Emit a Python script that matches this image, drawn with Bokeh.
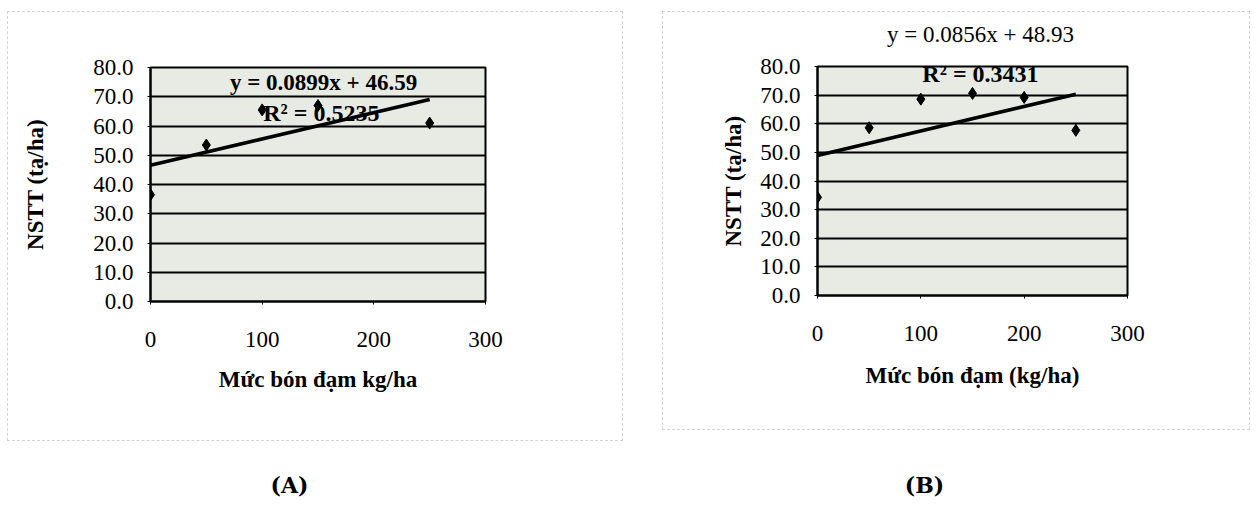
from bokeh.plotting import figure
from bokeh.models import Label, Range1d, FixedTicker, PrintfTickFormatter, Spacer
from bokeh.layouts import row, column
from bokeh.embed import file_html
from bokeh.resources import INLINE

# ---------------- data ----------------
x_ticks = [0, 100, 200, 300]
y_ticks = [0, 10, 20, 30, 40, 50, 60, 70, 80]

a_x = [0, 50, 100, 150, 250]
a_y = [36.5, 53.5, 65.5, 67.0, 61.0]
a_slope = 0.0899
a_intercept = 46.59
a_r2 = 0.5235

b_x = [0, 50, 100, 150, 200, 250]
b_y = [34.3, 58.6, 68.6, 70.6, 69.2, 57.7]
b_slope = 0.0856
b_intercept = 48.93
b_r2 = 0.3431

x_title_a = "Mức bón đạm kg/ha"
x_title_b = "Mức bón đạm (kg/ha)"
y_title = "NSTT (tạ/ha)"
captions = ["(A)", "(B)"]

SERIF = "Liberation Serif"
BG = "#e8ebe3"
PANEL_BORDER = {"border": "1px dashed #d4d4d4"}


def no_align(p):
    try:
        p.frame_align = False
    except Exception:
        pass


def text_strip(w, h):
    f = figure(width=w, height=h, output_backend="svg", toolbar_location=None,
               x_range=Range1d(0, w), y_range=Range1d(0, h),
               min_border=0, x_axis_type=None, y_axis_type=None)
    no_align(f)
    f.outline_line_color = None
    f.xgrid.grid_line_color = None
    f.ygrid.grid_line_color = None
    return f


def make_panel(w, h, left, right, top, bottom, xs, ys, slope, intercept,
               xtitle, ylabel_standoff, xlabel_standoff):
    p = figure(width=w, height=h, output_backend="svg", toolbar_location=None,
               x_range=Range1d(0, 300), y_range=Range1d(0, 80),
               min_border_left=left, min_border_right=right,
               min_border_top=top, min_border_bottom=bottom)
    no_align(p)
    p.background_fill_color = BG
    p.border_fill_color = "white"
    p.outline_line_color = "black"
    p.outline_line_width = 2

    p.xaxis.ticker = FixedTicker(ticks=x_ticks)
    p.yaxis.ticker = FixedTicker(ticks=y_ticks)
    p.yaxis.formatter = PrintfTickFormatter(format="%.1f")
    for ax in (p.xaxis, p.yaxis):
        ax.axis_line_color = "black"
        ax.axis_line_width = 2
        ax.major_tick_line_color = "black"
        ax.major_tick_in = 0
        ax.major_tick_out = 3
        ax.minor_tick_line_color = None
        ax.major_label_text_font = SERIF
        ax.major_label_text_font_size = "23px"
        ax.major_label_text_color = "black"
        ax.axis_label_text_font = SERIF
        ax.axis_label_text_font_style = "bold"
        ax.axis_label_text_font_size = "23px"
        ax.axis_label_text_color = "black"
    p.xaxis.major_label_standoff = 27
    p.yaxis.major_label_standoff = 14
    p.xaxis.axis_label = xtitle
    p.yaxis.axis_label = y_title
    p.yaxis.axis_label_standoff = ylabel_standoff
    p.xaxis.axis_label_standoff = xlabel_standoff

    p.xgrid.grid_line_color = None
    p.ygrid.grid_line_color = "black"
    p.ygrid.grid_line_width = 2

    xl = [min(xs), max(xs)]
    yl = [intercept + slope * v for v in xl]
    p.line(xl, yl, line_color="black", line_width=3.5)
    p.scatter(xs, ys, marker="diamond", size=12, color="black")
    return p


# ---- panel A ----
pa = make_panel(616, 430, 142, 139, 55, 141, a_x, a_y, a_slope, a_intercept,
                x_title_a, 42, 17)
pa.styles = PANEL_BORDER
pa.add_layout(Label(x=155, y=75, text=f"y = {a_slope}x + {a_intercept}",
                    text_align="center", text_baseline="middle",
                    text_font=SERIF, text_font_style="bold",
                    text_font_size="23px", text_color="black"))
pa.add_layout(Label(x=153, y=64.3, text=f"R² = {a_r2}",
                    text_align="center", text_baseline="middle",
                    text_font=SERIF, text_font_style="bold",
                    text_font_size="24px", text_color="black"))

# ---- panel B: equation strip above the chart ----
eqb = text_strip(586, 40)
eqb.add_layout(Label(x=317, y=18, text=f"y = {b_slope}x + {b_intercept}",
                     text_align="center", text_baseline="middle",
                     text_font=SERIF, text_font_size="23px",
                     text_color="black"))
pb = make_panel(586, 377, 154, 122, 14, 134, b_x, b_y, b_slope, b_intercept,
                x_title_b, 11, 19)
pb.add_layout(Label(x=157.7, y=77.3, text=f"R² = {b_r2}",
                    text_align="center", text_baseline="middle",
                    text_font=SERIF, text_font_style="bold",
                    text_font_size="24px", text_color="black"))
panel_b = column(eqb, pb)
panel_b.styles = PANEL_BORDER

# ---- captions ----
cap = text_strip(1241, 58)
for txt, cx in zip(captions, [282, 917]):
    cap.add_layout(Label(x=cx, y=15, text=txt, text_align="center",
                         text_baseline="middle", text_font="DejaVu Serif",
                         text_font_style="bold", text_font_size="22px",
                         text_color="black"))

layout = column(Spacer(height=11),
                row(Spacer(width=7), pa, Spacer(width=39), panel_b),
                row(Spacer(width=7), cap))
open("out.html", "w").write(file_html(layout, INLINE))
